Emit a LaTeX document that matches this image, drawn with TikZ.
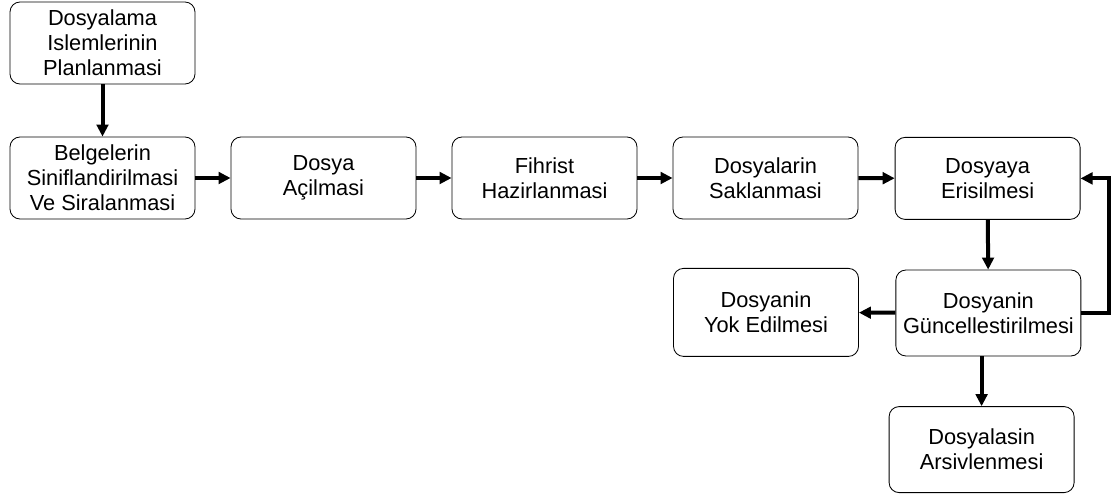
\documentclass[tikz,border=0pt]{standalone}
\usepackage{fontspec}
\setmainfont{Liberation Sans}
\usepackage{tikz}
\usetikzlibrary{arrows.meta,positioning}

\tikzset{
  stepbox/.style={draw, line width=0.6pt, rounded corners=2.5mm, align=center,
    minimum width=4.625cm, minimum height=2.05cm, inner sep=1pt},
  flow/.style={-{Triangle[length=3mm,width=2.9mm]}, line width=1mm}
}

\begin{document}
\begin{tikzpicture}[font=\fontsize{15.5}{17.8}\selectfont]
      \useasboundingbox (0,0) rectangle (28,-12.425);
      % main row
      \node[stepbox] (plan) at (2.5625,-1.075) {Dosyalama\\Islemlerinin\\Planlanmasi};
      \node[stepbox] (sinif) at (2.5625,-4.45) {Belgelerin\\Siniflandirilmasi\\Ve Siralanmasi};
      \node[stepbox] (acil) at (8.0875,-4.45) {Dosya\\Açilmasi};
      \node[stepbox] (fihrist) at (13.6125,-4.45) {Fihrist\\Hazirlanmasi};
      \node[stepbox] (sakla) at (19.1375,-4.45) {Dosyalarin\\Saklanmasi};
      \node[stepbox] (erisim) at (24.69,-4.46) {Dosyaya\\Erisilmesi};
      % lower part
      \node[stepbox, minimum height=2.15cm] (guncel) at (24.71,-7.825) {Dosyanin\\Güncellestirilmesi};
      \node[stepbox, minimum height=2.2cm] (yok) at (19.15,-7.81) {Dosyanin\\Yok Edilmesi};
      \node[stepbox, minimum height=2.15cm] (arsiv) at (24.54,-11.24) {Dosyalasin\\Arsivlenmesi};
      % arrows
      \draw[flow] (plan) -- (sinif);
      \draw[flow] (sinif) -- (acil);
      \draw[flow] (acil) -- (fihrist);
      \draw[flow] (fihrist) -- (sakla);
      \draw[flow] (sakla) -- (erisim);
      \draw[flow] (erisim) -- (guncel);
      \draw[flow] (guncel) -- (yok);
      \draw[flow] (arsiv.north |- guncel.south) -- (arsiv.north);
      \coordinate[right=0.7cm of guncel.east] (loop);
      \draw[flow] (guncel.east) -- (loop) |- (erisim.east);
    \end{tikzpicture}
\end{document}
